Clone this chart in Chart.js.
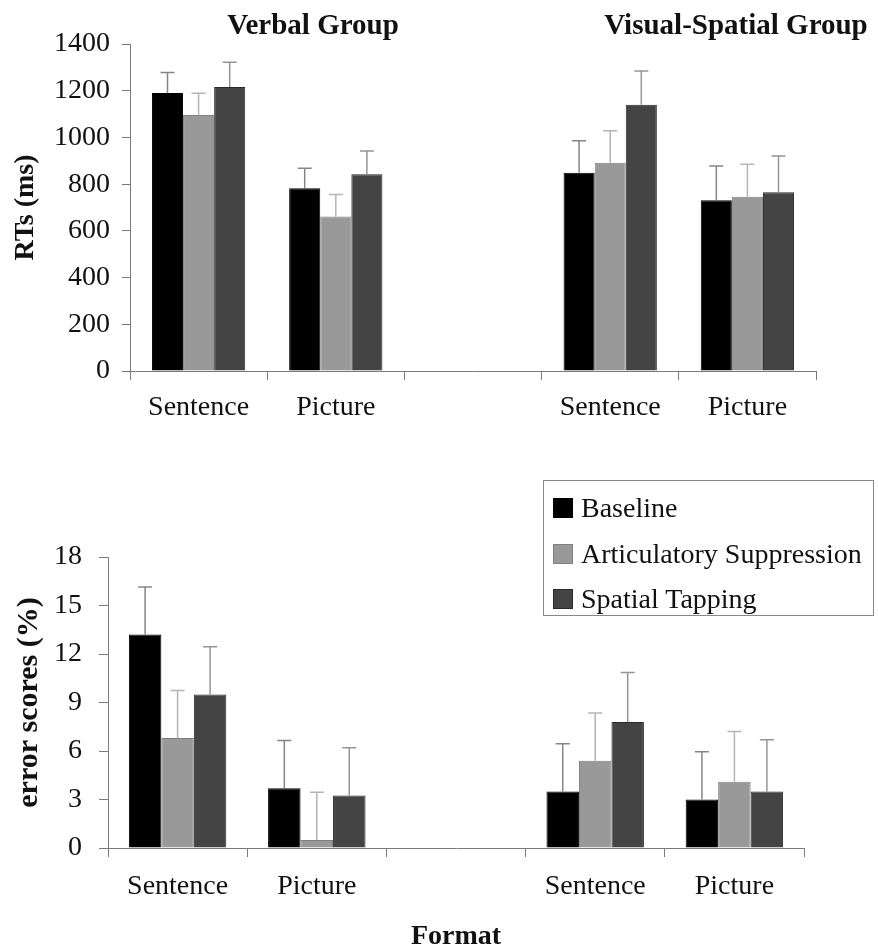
<!DOCTYPE html>
<html>
<head>
<meta charset="utf-8">
<script src="https://cdn.jsdelivr.net/npm/chart.js@4"></script>
<style>
  body { margin: 0; background: #fff; }
  #wrap { position: relative; width: 878px; height: 951px; font-family: 'Liberation Serif', 'Times New Roman', serif; color: #111; }
  canvas { position: absolute; left: 0; }
  #rtChart { top: 0; }
  #errChart { top: 440px; }
  .grp { position: absolute; top: 8px; font-weight: bold; font-size: 29px; transform: translateX(-50%); white-space: nowrap; }
  #legend { position: absolute; left: 543px; top: 480px; width: 331px; height: 136px; border: 1px solid #888; box-sizing: border-box; }
  .item { position: absolute; left: 9px; height: 30px; display: flex; align-items: center; font-size: 28px; white-space: nowrap; }
  .sw { width: 20px; height: 20px; margin-right: 8px; box-sizing: border-box; }
</style>
</head>
<body>
<div id="wrap">
  <canvas id="rtChart" width="878" height="440"></canvas>
  <canvas id="errChart" width="878" height="511"></canvas>
  <div class="grp" style="left:313px">Verbal Group</div>
  <div class="grp" style="left:736px">Visual-Spatial Group</div>
  <div id="legend"></div>
</div>
<script>
// categories: verbal group (Sentence, Picture), gap, visual-spatial group (Sentence, Picture)
var formats = ['Sentence', 'Picture', '', 'Sentence', 'Picture'];
var conditions = ['Baseline', 'Articulatory Suppression', 'Spatial Tapping'];
var fills = ['#000000', '#999999', '#444444'];
var edges = ['#000000', '#808080', '#2a2a2a'];
var whiskers = ['#858585', '#b5b5b5', '#959595'];

// reaction times (ms)
var rtBaseline = [1190, 782, null, 849, 731];
var rtArticulatory = [1096, 661, null, 892, 746];
var rtTapping = [1216, 842, null, 1140, 765];
var rtBaselineErr = [88, 86, 0, 137, 147];
var rtArticulatoryErr = [93, 95, 0, 137, 139];
var rtTappingErr = [106, 100, 0, 144, 156];

// error scores (%)
var errBaseline = [13.2, 3.7, null, 3.5, 3.0];
var errArticulatory = [6.8, 0.5, null, 5.4, 4.1];
var errTapping = [9.5, 3.25, null, 7.8, 3.5];
var errBaselineErr = [2.95, 2.95, 0, 2.95, 2.95];
var errArticulatoryErr = [2.95, 2.95, 0, 2.95, 3.1];
var errTappingErr = [2.95, 2.95, 0, 3.05, 3.2];

var serif = "'Liberation Serif', 'Times New Roman', serif";
var axisGrey = '#7a7a7a';

var errorBars = {
  id: 'errorBars',
  afterDatasetsDraw: function(chart) {
    var ctx = chart.ctx;
    var y = chart.scales.y;
    chart.data.datasets.forEach(function(ds, i) {
      var meta = chart.getDatasetMeta(i);
      meta.data.forEach(function(bar, j) {
        var v = ds.data[j];
        if (v == null) return;
        var top = y.getPixelForValue(v + ds.err[j]);
        ctx.save();
        ctx.strokeStyle = ds.whisker;
        ctx.lineWidth = 1.5;
        ctx.beginPath();
        ctx.moveTo(bar.x, bar.y);
        ctx.lineTo(bar.x, top);
        ctx.moveTo(bar.x - 7, top);
        ctx.lineTo(bar.x + 7, top);
        ctx.stroke();
        ctx.restore();
      });
    });
  }
};

function makeSets(values, errs, catPct) {
  return values.map(function(v, i) {
    return {
      label: conditions[i],
      data: v,
      err: errs[i],
      whisker: whiskers[i],
      backgroundColor: fills[i],
      borderColor: edges[i],
      borderWidth: 1,
      barPercentage: 1.0,
      categoryPercentage: catPct
    };
  });
}

function makeChart(id, sets, o) {
  return new Chart(document.getElementById(id), {
    type: 'bar',
    data: { labels: formats, datasets: sets },
    options: {
      responsive: false,
      animation: false,
      layout: { padding: { top: o.padTop, right: o.padRight, left: 0, bottom: 0 } },
      plugins: { legend: { display: false }, tooltip: { enabled: false } },
      scales: {
        x: {
          grid: { offset: true, drawOnChartArea: false, color: axisGrey, tickLength: 9, lineWidth: 1 },
          border: { color: axisGrey, width: 1 },
          ticks: { color: '#111', padding: o.xPad, font: { family: serif, size: 28 } },
          title: o.xTitle ? { display: true, text: o.xTitle, color: '#111', padding: 0, font: { family: serif, size: 28, weight: 'bold', lineHeight: 1 } } : { display: false },
          afterFit: function(s) { s.height = o.xHeight; }
        },
        y: {
          min: 0, max: o.max,
          ticks: { stepSize: o.step, color: '#111', padding: o.yPad, font: { family: serif, size: 28 },
            callback: function(v) { return String(v); } },
          grid: { drawOnChartArea: false, color: axisGrey, tickLength: o.yTick },
          border: { color: axisGrey, width: 1 },
          title: { display: true, text: o.yTitle, color: '#111', padding: { top: o.titlePad }, font: { family: serif, size: o.titleSize, weight: 'bold', lineHeight: 1.2 } },
          afterFit: function(s) { s.width = o.yWidth; }
        }
      }
    },
    plugins: [errorBars]
  });
}

makeChart('rtChart',
  makeSets([rtBaseline, rtArticulatory, rtTapping], [rtBaselineErr, rtArticulatoryErr, rtTappingErr], 0.68),
  { padTop: 44, padRight: 62, xHeight: 69, xPad: 11, yWidth: 130, yPad: 12, yTick: 8,
    max: 1400, step: 200, yTitle: 'RTs (ms)', titleSize: 28, titlePad: 9 });

makeChart('errChart',
  makeSets([errBaseline, errArticulatory, errTapping], [errBaselineErr, errArticulatoryErr, errTappingErr], 0.70),
  { padTop: 117, padRight: 74, xHeight: 103, xPad: 13, yWidth: 108, yPad: 17, yTick: 9,
    max: 18, step: 3, yTitle: 'error scores (%)', titleSize: 30, titlePad: 11, xTitle: 'Format' });

// legend box
var legend = document.getElementById('legend');
var centers = [27, 73, 118];
conditions.forEach(function(name, i) {
  var row = document.createElement('div');
  row.className = 'item';
  row.style.top = (centers[i] - 15) + 'px';
  var sw = document.createElement('div');
  sw.className = 'sw';
  sw.style.background = fills[i];
  sw.style.border = '1px solid ' + edges[i];
  row.appendChild(sw);
  row.appendChild(document.createTextNode(name));
  legend.appendChild(row);
});
</script>
</body>
</html>
